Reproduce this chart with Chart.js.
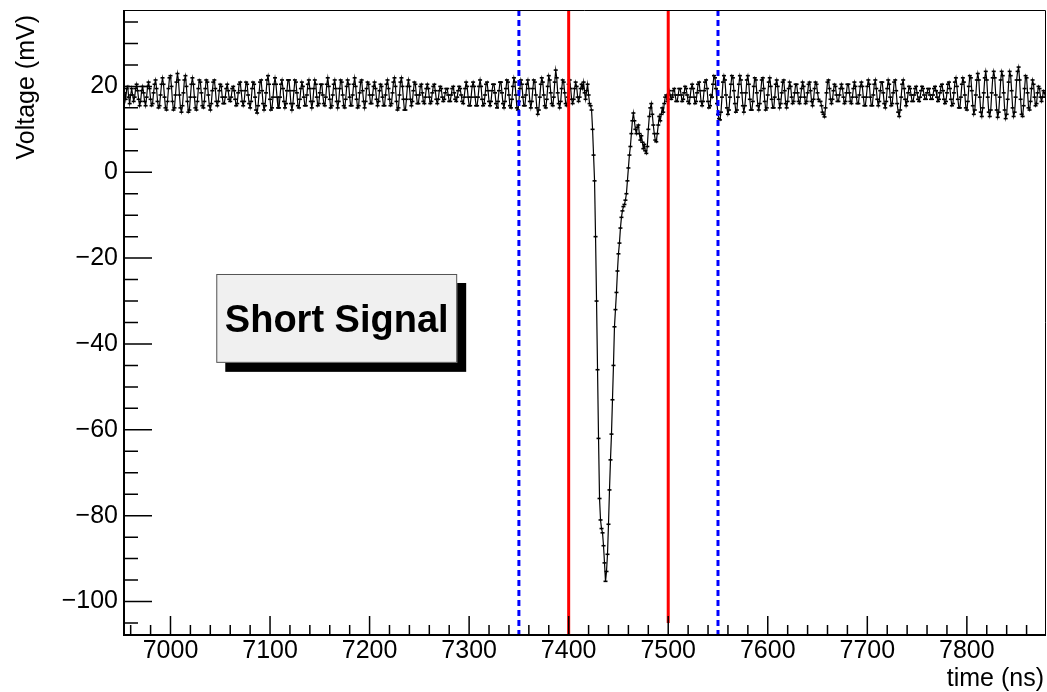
<!DOCTYPE html>
<html>
<head>
<meta charset="utf-8">
<script src="https://cdn.jsdelivr.net/npm/chart.js@4"></script>
<style>
  html, body { margin: 0; padding: 0; background: #fff; }
  #wrap { width: 1047px; height: 692px; }
</style>
</head>
<body>
<div id="wrap"><canvas id="c" width="1047" height="692"></canvas></div>
<script>
// Digitizer trace: one sample per ns starting at t0 (ns), values in mV
const t0 = 6954;
const dt = 1;
const voltage = [
  18.5, 17, 19.5, 20, 17.5, 16, 18, 19.5, 18, 16.5,
  17.5, 19.5, 20.5, 19, 17, 15.5, 16.5, 19, 20, 18.5,
  16.5, 15.5, 17.5, 20, 21, 19.5, 17, 15.5, 16, 18.5,
  20.5, 21.5, 19.5, 16.5, 15, 15.5, 18, 20.5, 22, 20.5,
  17.5, 15, 14.5, 16.5, 19.5, 22, 22.5, 20, 16.5, 14.5,
  15, 18, 21, 23, 21.5, 18, 15, 14, 15.5, 18.5,
  21.5, 22.5, 20, 16.5, 14, 14.5, 17.5, 20.5, 22, 20.5,
  17.5, 15, 14.5, 16.5, 19.5, 21.5, 21, 18.5, 15.5, 15,
  16.5, 19.5, 21.5, 21, 18, 15.5, 14.5, 16, 19, 21,
  21.5, 19.5, 16.5, 15.5, 16.5, 19, 20.5, 20, 17.5, 16,
  16, 17.5, 19.5, 20.5, 19, 17, 16.5, 17.5, 19.5, 20,
  19, 17, 15.5, 16, 18.5, 20.5, 21, 19, 16.5, 15.5,
  16.5, 19, 21, 20.5, 18, 16, 15, 16.5, 19.5, 21,
  20.5, 17.5, 14.5, 13.8, 15.5, 18.5, 21, 21.5, 19, 16,
  14.5, 15.5, 18.5, 21.5, 22.5, 20.5, 17, 14.5, 15, 17.5,
  20.5, 22, 20.5, 17.5, 15, 15, 17.5, 20.5, 21.5, 19.5,
  16.5, 15, 16, 19, 21.5, 21.5, 19, 16, 14.5, 16,
  19, 21.5, 21, 18.5, 15.5, 15, 17, 19.5, 21, 20,
  17.5, 15.5, 15.5, 18, 20.5, 21.5, 19.5, 16.5, 15, 16.5,
  19.5, 21.5, 20.5, 17.5, 15.5, 16, 18.5, 20.5, 20.5, 18,
  16, 15.5, 17.5, 20.5, 22, 20, 17, 15, 15.5, 18,
  20.5, 21.5, 19.5, 16.5, 15, 16.5, 19.5, 21.5, 21, 18,
  15.5, 15, 17, 20, 21.5, 20.5, 17.5, 15.5, 15.5, 18,
  20.5, 22, 20, 17, 15, 15.5, 18.5, 21, 21.5, 19,
  16.5, 15, 16.5, 19.5, 21, 20.5, 18, 16, 16, 18,
  20, 21, 19.5, 17, 15.5, 16.5, 19, 20.5, 20, 17.5,
  15.5, 15.5, 18, 20.5, 21.5, 19.5, 17, 15.5, 16, 18.5,
  21, 22, 20, 16.5, 14.5, 15, 18, 21, 22, 20,
  17, 14.5, 14.5, 17, 20, 21.5, 20, 17, 15.5, 16.5,
  19, 21, 20.5, 18, 16, 16, 18, 20, 20.5, 18.5,
  16.5, 16, 17.5, 19.5, 20.5, 19.5, 17.5, 16, 16.5, 18.5,
  20, 20.5, 19, 17, 16, 17, 19, 20, 19.5, 17.5,
  16.5, 17, 18.5, 19.5, 19.5, 18, 16.5, 16.5, 18, 19.5,
  20, 18.5, 17, 16.5, 17.5, 19, 20, 19.5, 18, 16.5,
  16, 17.5, 19.5, 21, 20, 17.5, 15.5, 15.5, 17.5, 20,
  21, 20, 17.5, 15.5, 15.5, 17.5, 20, 21.5, 20, 17,
  15.5, 16, 18, 20.5, 21, 19, 16.5, 15.5, 16.5, 19,
  20.5, 20.5, 18.5, 16, 15, 16.5, 19, 21, 21, 18.5,
  16, 15, 16.5, 19.5, 21.5, 21, 18, 15.5, 15, 17,
  20, 22, 21, 18, 15, 14.5, 16.5, 19.5, 21.5, 20.5,
  17.5, 15.5, 15.5, 18, 20.5, 21.5, 19.5, 16.5, 15, 16.5,
  19.5, 21.5, 21, 18, 15, 13.5, 14.5, 17.5, 20.5, 22,
  21, 18, 15.5, 15, 17, 20, 22.5, 21.5, 18.5, 16,
  15.5, 17.5, 21, 23.8, 22, 18.5, 16, 15, 16.5, 19.5,
  21.5, 21, 18.5, 16, 15.5, 17.5, 20.5, 21.5, 19.5, 17,
  16, 17, 19.5, 21, 20, 17.5, 16.5, 17.5, 19.5, 20.5,
  // pulse
  19.5, 21, 18.5, 17, 19, 20.5, 18, 16, 15.5, 14.5,
  10, 4, -2, -15, -30, -46, -62, -76, -81, -83,
  -84, -87, -91, -95.3, -93, -89, -82, -74, -67, -61,
  -53, -45, -36, -32, -28, -23, -19, -16.5, -13, -10.5,
  -9, -8, -7.5, -6.5, -5, -2, 1, 4, 6, 9,
  12, 13.8, 12, 10, 9, 10.5, 11, 9, 7.5, 8.5,
  7, 5.5, 6.5, 5, 4.4, 6, 10, 13, 15, 16,
  13.5, 11, 9, 7.5, 7.1, 9, 11, 13, 12, 13.5,
  15, 14, 16, 17.5, 18, 16.5, 17, 19, 18, 17,
  // after the pulse
  17.5, 19, 19.5, 18, 16.5, 16.5, 18, 19.5, 19.5, 18,
  16.5, 17, 18.5, 20, 19.5, 18, 16.5, 16, 17.5, 19.5,
  20.5, 19.5, 17.5, 16, 16.5, 18.5, 20.5, 21, 19, 16.5,
  15.5, 16.5, 19, 21, 21.5, 19.5, 16.5, 15, 15.5, 18,
  17.5, 20.5, 22.5, 22, 19.5, 16, 13.5, 12.5, 12.2, 14,
  17.5, 21, 22.5, 21.5, 18, 15, 13.5, 14.5, 17.5, 20.5,
  22.5, 22, 19, 16, 14, 14.5, 17.5, 20.5, 22.5, 21.5,
  18.5, 15.5, 14, 15.5, 18.5, 21.5, 22.5, 20.5, 17, 14.5,
  14.5, 16.5, 20, 22, 21.5, 18.5, 15.5, 14.5, 16, 19,
  21.5, 22, 19.5, 16.5, 14.5, 15, 18, 21, 22, 20,
  17, 15, 15, 17.5, 20.5, 21.5, 20, 17, 15, 16,
  18.5, 21, 21.5, 19, 16, 15, 16.5, 19.5, 21, 20,
  17.5, 16, 16.5, 18.5, 20.5, 20.5, 18.5, 16.5, 16, 17.5,
  19.5, 21, 20, 17.5, 16, 16.5, 18.5, 20.5, 21, 19,
  16.5, 15.5, 17, 19.5, 21, 20.5, 18.5, 17, 16.5, 16.5,
  15.5, 14, 13.5, 12.9, 15, 18.5, 21, 21.5, 19.5, 17,
  16, 17, 19, 20.5, 20, 18, 16.5, 16.5, 18, 19.5,
  20.5, 19.5, 17.5, 16, 16.5, 18.5, 20.5, 20.5, 18.5, 16.5,
  16, 17.5, 19.5, 21, 20, 17.5, 16, 16, 18, 20,
  21, 20, 17.5, 15.5, 15.5, 17.5, 20, 21.5, 20.5, 17.5,
  15.5, 15.5, 18, 20.5, 21.5, 19.5, 17, 15.5, 16.5, 19,
  21, 21, 18.5, 16, 15, 16.5, 19.5, 21.5, 20.5, 17.5,
  15.5, 16, 18.5, 21, 21.5, 19, 16, 14, 13, 14.5,
  17.5, 20.5, 21.5, 19.5, 17, 15.5, 16.5, 18.5, 20, 19.5,
  18, 16.5, 16.5, 18, 19.5, 20, 18.5, 17, 16.5, 17.5,
  19, 20, 19.5, 18, 17, 17, 18.5, 19.5, 19.5, 18,
  17, 17, 18, 19.5, 20, 19, 17.5, 16.5, 17, 18.5,
  20, 20.5, 19, 17, 16, 16.5, 18.5, 20.5, 21, 19.5,
  17, 15.5, 16, 18.5, 21, 22, 20, 17, 15, 15,
  17.5, 20.5, 22, 21, 18, 15, 14.5, 16.5, 20, 22.5,
  22, 19, 15.5, 13.5, 14.5, 18, 21.5, 23, 21.5, 17.5,
  14, 13, 15, 18.5, 22, 23.5, 21.5, 17.5, 14, 13,
  14.5, 18.5, 22, 23.5, 22, 18, 14.5, 12.8, 14, 17.5,
  21.5, 23.5, 22.5, 18.5, 14.5, 12.5, 13.5, 17, 21, 23.5,
  22.5, 19, 15, 13, 14, 17.5, 21.5, 23.5, 24.5, 21.5,
  17, 13.5, 13, 15.5, 19.5, 22.5, 22, 18.5, 15, 14.5,
  16.5, 19.5, 21.5, 20.5, 17.5, 15.5, 16, 18.5, 20, 19.5,
  17.5, 16.5, 17.5, 19, 18.5, 17.5
];

// Axis ranges and labelled ticks
const xRange = [6953.3, 7879.5];
const yRange = [-107.8, 37.8];
const xTicks = [7000, 7100, 7200, 7300, 7400, 7500, 7600, 7700, 7800];
const yTicks = [-100, -80, -60, -40, -20, 0, 20];
const xTitle = 'time (ns)';
const yTitle = 'Voltage (mV)';

// Integration window (red, solid) and baseline window (blue, dashed), in ns
const signalLines = [7400, 7500];
const signalLineLow = [-107.8, -105];
const windowLines = [7350, 7550];

const FONT = '"Liberation Sans", Arial, Helvetica, sans-serif';
Chart.defaults.font.family = FONT;
Chart.defaults.color = '#000';

const trace = voltage.map((v, i) => ({ x: t0 + i * dt, y: v }));

const datasets = [];
signalLines.forEach((tx, i) => datasets.push({
  data: [{ x: tx, y: yRange[1] }, { x: tx, y: signalLineLow[i] }],
  borderColor: '#ff0000', borderWidth: 3, pointRadius: 0, order: 1
}));
windowLines.forEach(tx => datasets.push({
  data: [{ x: tx, y: yRange[1] }, { x: tx, y: yRange[0] }],
  borderColor: '#0000ff', borderWidth: 3, borderDash: [6, 4], pointRadius: 0, order: 1
}));
datasets.push({
  data: trace,
  borderColor: '#000', borderWidth: 1.2, tension: 0,
  pointStyle: 'line', pointRadius: 2, pointBorderWidth: 1.6,
  pointBorderColor: '#000', pointBackgroundColor: '#000', order: 5
});

// Frame, inward ticks (major + minor) and axis titles
const frameTicks = {
  id: 'frameTicks',
  afterDatasetsDraw(chart) {
    const { ctx, chartArea: a, scales: { x, y } } = chart;
    ctx.save();
    ctx.strokeStyle = '#000';
    ctx.lineWidth = 1;
    ctx.beginPath();
    ctx.moveTo(a.left, a.top + 0.5); ctx.lineTo(a.right - 0.5, a.top + 0.5); ctx.lineTo(a.right - 0.5, a.bottom);
    ctx.stroke();
    ctx.lineWidth = 2;
    ctx.beginPath();
    ctx.moveTo(a.left, a.top); ctx.lineTo(a.left, a.bottom); ctx.lineTo(a.right, a.bottom);
    ctx.stroke();
    ctx.lineWidth = 1.5;
    ctx.beginPath();
    for (let v = Math.ceil(x.min / 20) * 20; v <= x.max; v += 20) {
      const px = x.getPixelForValue(v);
      const len = v % 100 === 0 ? 19 : 10;
      ctx.moveTo(px, a.bottom); ctx.lineTo(px, a.bottom - len);
    }
    for (let v = Math.ceil(y.min / 5) * 5; v <= y.max; v += 5) {
      const py = y.getPixelForValue(v);
      const len = v % 20 === 0 ? 28 : 14;
      ctx.moveTo(a.left, py); ctx.lineTo(a.left + len, py);
    }
    ctx.stroke();

    ctx.fillStyle = '#000';
    ctx.font = '25px ' + FONT;
    ctx.textAlign = 'right';
    ctx.textBaseline = 'alphabetic';
    ctx.fillText(xTitle, a.right - 2, 686);
    ctx.translate(27, a.top + 5);
    ctx.rotate(-Math.PI / 2);
    ctx.textBaseline = 'middle';
    ctx.fillText(yTitle, 0, 0);
    ctx.restore();
  }
};

// Label box with drop shadow, placed in data coordinates
const labelBox = {
  id: 'labelBox',
  afterDraw(chart, args, o) {
    const { ctx, scales: { x, y } } = chart;
    const x0 = x.getPixelForValue(o.x0), x1 = x.getPixelForValue(o.x1);
    const y0 = y.getPixelForValue(o.y0), y1 = y.getPixelForValue(o.y1);
    ctx.save();
    ctx.fillStyle = '#000';
    ctx.fillRect(x0 + o.shadow, y0 + o.shadow, x1 - x0, y1 - y0);
    ctx.fillStyle = '#f0f0f0';
    ctx.fillRect(x0, y0, x1 - x0, y1 - y0);
    ctx.strokeStyle = '#555';
    ctx.lineWidth = 1;
    ctx.strokeRect(x0 + 0.5, y0 + 0.5, x1 - x0 - 1, y1 - y0 - 1);
    ctx.fillStyle = '#000';
    ctx.font = 'bold 38px ' + FONT;
    ctx.textAlign = 'center';
    ctx.textBaseline = 'alphabetic';
    ctx.fillText(o.text, (x0 + x1) / 2, (y0 + y1) / 2 + 14);
    ctx.restore();
  }
};

new Chart(document.getElementById('c'), {
  type: 'line',
  data: { datasets },
  options: {
    responsive: false,
    animation: false,
    events: [],
    devicePixelRatio: 1,
    layout: { autoPadding: false, padding: { top: 10, right: 1, bottom: 0, left: 0 } },
    plugins: {
      legend: { display: false },
      tooltip: { enabled: false },
      labelBox: { x0: 7046, x1: 7288, y0: -23.7, y1: -44.4, shadow: 9, text: 'Short Signal' }
    },
    scales: {
      x: {
        type: 'linear', min: xRange[0], max: xRange[1],
        grid: { display: false, drawTicks: false }, border: { display: false },
        afterBuildTicks: s => { s.ticks = xTicks.map(v => ({ value: v })); },
        afterFit: s => { s.height = 57; s.paddingLeft = 0; s.paddingRight = 0; },
        ticks: { font: { size: 25 }, color: '#000', padding: 1, maxRotation: 0, autoSkip: false,
                 callback: v => String(v) }
      },
      y: {
        type: 'linear', min: yRange[0], max: yRange[1],
        grid: { display: false, drawTicks: false }, border: { display: false },
        afterBuildTicks: s => { s.ticks = yTicks.map(v => ({ value: v })); },
        afterFit: s => { s.width = 124; s.paddingTop = 0; s.paddingBottom = 0; },
        ticks: { font: { size: 25 }, color: '#000', padding: 6, autoSkip: false,
                 callback: v => (v < 0 ? '\u2212' + Math.abs(v) : String(v)) }
      }
    }
  },
  plugins: [frameTicks, labelBox]
});
</script>
</body>
</html>
